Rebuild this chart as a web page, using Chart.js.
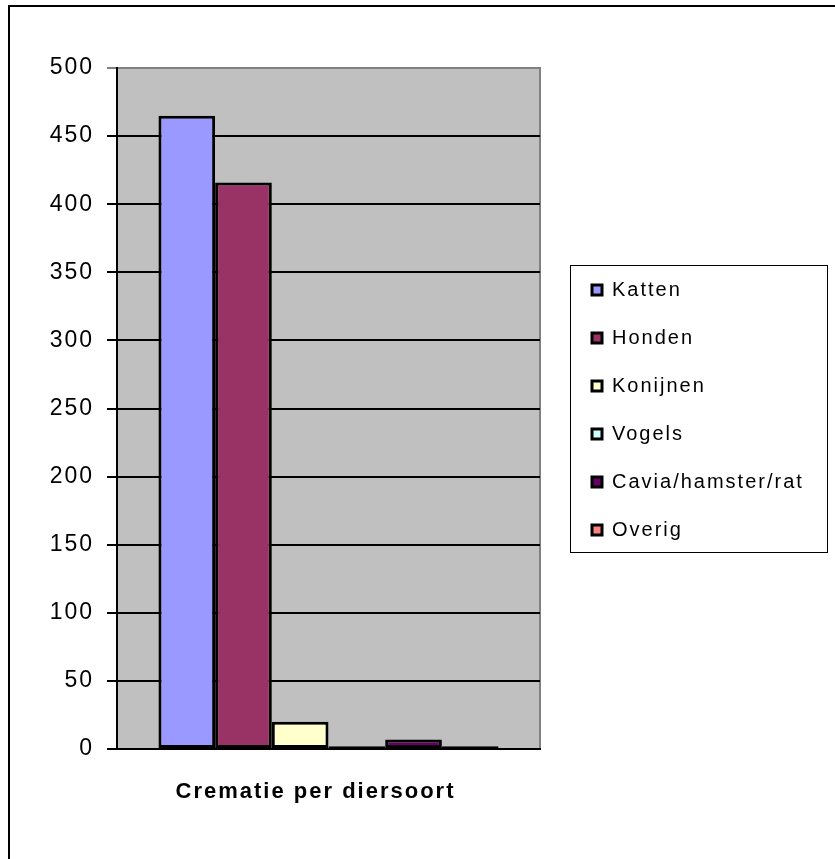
<!DOCTYPE html>
<html>
<head>
<meta charset="utf-8">
<script src="https://cdn.jsdelivr.net/npm/chart.js@4.4.0/dist/chart.umd.min.js"></script>
<style>
  html, body { margin: 0; padding: 0; background: #fff; }
  #wrap { position: relative; width: 835px; height: 859px; overflow: hidden; }
  #frame { position: absolute; left: 8px; top: 5px; width: 900px; height: 900px;
           border-left: 2px solid #000; border-top: 2px solid #000; }
  #chart { position: absolute; left: 0; top: 0; }
</style>
</head>
<body>
<div id="wrap">
  <div id="frame"></div>
  <canvas id="chart" width="835" height="859"></canvas>
</div>
<script>
const categories = ['Crematie per diersoort'];
const seriesNames = ['Katten', 'Honden', 'Konijnen', 'Vogels', 'Cavia/hamster/rat', 'Overig'];
const seriesValues = [465, 416, 20, 2, 7, 2];
const seriesColors = ['#9999FF', '#993366', '#FFFFCC', '#CCFFFF', '#660066', '#FF8080'];
const yMin = 0;
const yMax = 500;
const yStep = 50;

Chart.defaults.font.family = '"Liberation Sans", Arial, sans-serif';
Chart.defaults.color = '#000';

// grey plot area + Excel-ish letter spacing
const plotArea = {
  id: 'plotArea',
  beforeDraw(chart) {
    const { ctx, chartArea: a } = chart;
    ctx.letterSpacing = '2px';
    ctx.save();
    ctx.fillStyle = '#C0C0C0';
    ctx.fillRect(a.left, a.top, a.right - a.left, a.bottom - a.top);
    ctx.strokeStyle = '#808080';
    ctx.lineWidth = 2;
    ctx.strokeRect(a.left, a.top, a.right - a.left, a.bottom - a.top);
    ctx.restore();
  }
};

// fixed legend column with a frame round it
const legendFrame = {
  id: 'legendFrame',
  beforeLayout(chart) {
    const lg = chart.legend;
    if (lg && !lg._patched) {
      const fit = lg.fit;
      lg.fit = function () { fit.call(this); this.width = 295; };
      lg._patched = true;
    }
  },
  afterLayout(chart) {
    const lg = chart.legend;
    lg.left = chart.chartArea.right + 24;
    lg.top = 252;
  },
  afterDraw(chart) {
    const { ctx, legend: lg } = chart;
    ctx.save();
    ctx.strokeStyle = '#000';
    ctx.lineWidth = 1;
    ctx.strokeRect(lg.left + 6.5, lg.top + 13.5, 257, 287);
    ctx.restore();
  }
};

new Chart(document.getElementById('chart'), {
  type: 'bar',
  data: {
    labels: categories,
    datasets: seriesNames.map((name, i) => ({
      label: name,
      data: [seriesValues[i]],
      backgroundColor: seriesColors[i],
      borderColor: '#000',
      borderWidth: 3,
      borderSkipped: false
    }))
  },
  options: {
    responsive: false,
    animation: false,
    categoryPercentage: 0.804,
    barPercentage: 1,
    layout: { padding: { left: 0, top: 68, right: 0, bottom: 0 } },
    plugins: {
      tooltip: { enabled: false },
      legend: {
        position: 'right',
        align: 'start',
        labels: {
          boxWidth: 10,
          boxHeight: 10,
          padding: 28,
          color: '#000',
          font: { size: 20 }
        }
      }
    },
    scales: {
      x: {
        grid: { display: false, drawTicks: false },
        border: { display: true, color: '#000', width: 2 },
        ticks: {
          padding: 30,
          labelOffset: -13,
          color: '#000',
          font: { size: 22, weight: 'bold' }
        },
        afterFit(scale) { scale.height = 110; }
      },
      y: {
        min: yMin,
        max: yMax,
        grid: {
          color: (c) => (c.tick && c.tick.value === yMax ? '#808080' : '#000'),
          lineWidth: 2,
          tickLength: 10,
          drawTicks: true
        },
        border: { display: true, color: '#000', width: 2 },
        ticks: {
          stepSize: yStep,
          padding: 13,
          color: '#000',
          font: { size: 23 }
        },
        afterFit(scale) { scale.width = 117; }
      }
    }
  },
  plugins: [plotArea, legendFrame]
});
</script>
</body>
</html>
